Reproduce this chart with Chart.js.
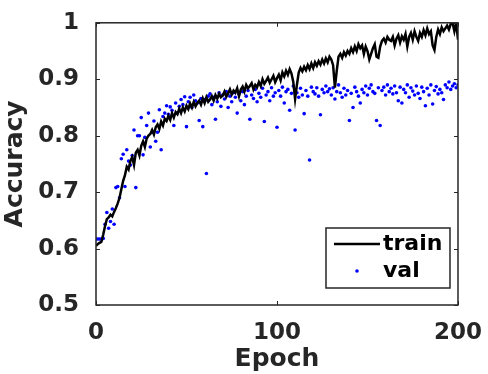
<!DOCTYPE html>
<html>
<head>
<meta charset="utf-8">
<script src="https://cdn.jsdelivr.net/npm/chart.js@4.4.1/dist/chart.umd.min.js"></script>
<style>
  html, body { margin: 0; padding: 0; background: #fff; }
  #wrap { width: 488px; height: 374px; }
</style>
</head>
<body>
<div id="wrap"><canvas id="accChart" width="488" height="374"></canvas></div>
<script>
// training accuracy per epoch (0..200)
const trainAcc = [
  0.605, 0.608, 0.61, 0.612, 0.625, 0.64, 0.652, 0.655, 0.66, 0.657,
  0.665, 0.672, 0.68, 0.69, 0.705, 0.72, 0.73, 0.745, 0.74, 0.755,
  0.762, 0.748, 0.77, 0.775, 0.765, 0.782, 0.79, 0.78, 0.795, 0.80,
  0.803, 0.81, 0.802, 0.815, 0.82, 0.812, 0.825, 0.818, 0.83, 0.826,
  0.835, 0.828, 0.84, 0.832, 0.842, 0.838, 0.848, 0.84, 0.85, 0.843,
  0.853, 0.847, 0.857, 0.85, 0.86, 0.852, 0.858, 0.862, 0.855, 0.866,
  0.858, 0.868, 0.86, 0.864, 0.87, 0.862, 0.872, 0.866, 0.874, 0.868,
  0.871, 0.878, 0.869, 0.875, 0.882, 0.873, 0.88, 0.876, 0.884, 0.87,
  0.882, 0.887, 0.878, 0.89, 0.884, 0.888, 0.893, 0.882, 0.89, 0.886,
  0.895, 0.888, 0.9, 0.892, 0.897, 0.903, 0.894, 0.9, 0.906, 0.895,
  0.902, 0.908, 0.898, 0.912, 0.905, 0.915, 0.908, 0.918, 0.91, 0.895,
  0.865, 0.89, 0.912, 0.92, 0.914, 0.922, 0.916, 0.925, 0.918, 0.928,
  0.92, 0.93, 0.924, 0.932, 0.926, 0.935, 0.928, 0.937, 0.93, 0.94,
  0.935, 0.925, 0.885, 0.915, 0.94, 0.945, 0.938, 0.948, 0.942, 0.95,
  0.945, 0.955, 0.948, 0.958, 0.95, 0.962, 0.955, 0.96, 0.945, 0.958,
  0.95, 0.935, 0.945, 0.955, 0.962, 0.94, 0.938, 0.958, 0.968, 0.972,
  0.965, 0.975, 0.97, 0.968, 0.975, 0.96, 0.972, 0.978, 0.965, 0.976,
  0.97, 0.98, 0.958, 0.975, 0.982, 0.97, 0.985, 0.975, 0.968, 0.982,
  0.975, 0.987, 0.978, 0.99, 0.98, 0.985, 0.96, 0.952, 0.975, 0.988,
  0.98, 0.992, 0.985, 0.99, 0.995, 0.988, 0.998, 1.0, 0.985, 1.0,
  0.97
];

// validation accuracy per epoch (0..200)
const valAcc = [
  0.617, 0.617, 0.617, 0.617, 0.618, 0.643, 0.664, 0.636, 0.648, 0.67,
  0.643, 0.708, 0.71, 0.69, 0.759, 0.767, 0.71, 0.775, 0.755, 0.748,
  0.765, 0.81, 0.708, 0.8, 0.8, 0.832, 0.766, 0.797, 0.818, 0.84,
  0.78, 0.806, 0.826, 0.79, 0.806, 0.846, 0.775, 0.834, 0.84, 0.853,
  0.838, 0.851, 0.845, 0.818, 0.858, 0.84, 0.852, 0.864, 0.855, 0.869,
  0.816, 0.86, 0.868, 0.85, 0.872, 0.862, 0.858, 0.827, 0.866, 0.816,
  0.864, 0.733, 0.87, 0.874, 0.855, 0.868, 0.829, 0.86, 0.876, 0.852,
  0.872, 0.865, 0.878, 0.85, 0.87, 0.86, 0.876, 0.868, 0.84, 0.874,
  0.862, 0.878, 0.855, 0.87, 0.88, 0.829, 0.872, 0.866, 0.882, 0.86,
  0.875, 0.868, 0.884, 0.825, 0.872, 0.878, 0.862, 0.885, 0.87, 0.876,
  0.815, 0.88, 0.87, 0.886, 0.858, 0.878, 0.882, 0.845, 0.875, 0.888,
  0.81, 0.876, 0.868, 0.884, 0.872, 0.839, 0.88, 0.87, 0.757, 0.886,
  0.878, 0.874, 0.885, 0.87, 0.837, 0.882, 0.876, 0.888, 0.878, 0.883,
  0.872, 0.885, 0.865, 0.878, 0.89, 0.876, 0.868, 0.884, 0.872, 0.88,
  0.827, 0.875, 0.85, 0.886, 0.878, 0.87, 0.858, 0.882, 0.876, 0.888,
  0.872, 0.884, 0.89, 0.878, 0.875, 0.827, 0.885, 0.818, 0.88, 0.886,
  0.872, 0.89, 0.878, 0.884, 0.874, 0.888, 0.876, 0.862, 0.886, 0.858,
  0.882, 0.876, 0.89, 0.868, 0.885, 0.879, 0.872, 0.888, 0.875, 0.866,
  0.886, 0.878, 0.853, 0.884, 0.872, 0.89, 0.856, 0.88, 0.887, 0.874,
  0.882, 0.876, 0.864, 0.89, 0.885, 0.895, 0.882, 0.888, 0.892, 0.885,
  0.89
];

const xTicks = [0, 100, 200];
const yTicks = [0.5, 0.6, 0.7, 0.8, 0.9, 1];

const FONT = "'DejaVu Sans', sans-serif";
const AXIS_COLOR = '#262626';

// Helper: draws the closed box, inward tick marks and the boxed legend
const boxPlugin = {
    id: 'boxPlugin',
    afterDatasetsDraw(chart) {
        const { ctx, chartArea: a, scales } = chart;
        ctx.save();
        ctx.strokeStyle = AXIS_COLOR;
        ctx.lineWidth = 1.5;
        ctx.strokeRect(a.left, a.top, a.width, a.height);

        ctx.lineWidth = 1;
        xTicks.forEach(v => {
            const px = Math.round(scales.x.getPixelForValue(v)) + 0.5;
            ctx.beginPath();
            ctx.moveTo(px, a.bottom); ctx.lineTo(px, a.bottom - 4);
            ctx.moveTo(px, a.top); ctx.lineTo(px, a.top + 4);
            ctx.stroke();
        });
        yTicks.forEach(v => {
            const py = Math.round(scales.y.getPixelForValue(v)) + 0.5;
            ctx.beginPath();
            ctx.moveTo(a.left, py); ctx.lineTo(a.left + 4, py);
            ctx.moveTo(a.right, py); ctx.lineTo(a.right - 4, py);
            ctx.stroke();
        });

        // legend box in the lower right corner
        const w = 124, h = 60;
        const lx = a.right - 8 - w, ly = a.bottom - 17 - h;
        ctx.fillStyle = '#fff';
        ctx.fillRect(lx, ly, w, h);
        ctx.strokeStyle = AXIS_COLOR;
        ctx.lineWidth = 1.5;
        ctx.strokeRect(lx, ly, w, h);

        const ds = chart.data.datasets;
        ctx.font = "bold 22px " + FONT;
        ctx.textBaseline = 'middle';
        ctx.textAlign = 'left';

        // train entry
        ctx.strokeStyle = ds[0].borderColor;
        ctx.lineWidth = 2.5;
        ctx.beginPath();
        ctx.moveTo(lx + 8, ly + 16); ctx.lineTo(lx + 54, ly + 16);
        ctx.stroke();
        ctx.fillStyle = '#000';
        ctx.fillText(ds[0].label, lx + 57, ly + 16);

        // val entry
        ctx.fillStyle = ds[1].backgroundColor;
        ctx.beginPath();
        ctx.arc(lx + 31, ly + 43, 1.8, 0, Math.PI * 2);
        ctx.fill();
        ctx.fillStyle = '#000';
        ctx.fillText(ds[1].label, lx + 57, ly + 43);
        ctx.restore();
    }
};

const canvas = document.getElementById('accChart');
new Chart(canvas.getContext('2d'), {
    type: 'line',
    data: {
        datasets: [{
            label: 'train',
            data: trainAcc.map((v, i) => ({ x: i, y: v })),
            borderColor: '#000000',
            borderWidth: 2.5,
            pointRadius: 0,
            tension: 0,
            fill: false
        }, {
            label: 'val',
            data: valAcc.map((v, i) => ({ x: i, y: v })),
            showLine: false,
            backgroundColor: '#0000ff',
            borderColor: '#0000ff',
            borderWidth: 0,
            pointRadius: 1.8
        }]
    },
    options: {
        responsive: false,
        animation: false,
        layout: { padding: { top: 19, right: 29, left: 0, bottom: 0 } },
        plugins: {
            legend: { display: false },
            tooltip: { enabled: false }
        },
        scales: {
            x: {
                type: 'linear',
                min: 0, max: 200,
                afterBuildTicks: s => { s.ticks = xTicks.map(v => ({ value: v })); },
                afterFit: s => { s.height = 69; },
                grid: { display: false },
                border: { display: false },
                ticks: {
                    color: AXIS_COLOR,
                    font: { family: FONT, size: 23, weight: 'bold' },
                    padding: 6,
                    maxRotation: 0
                },
                title: {
                    display: true,
                    text: 'Epoch',
                    color: AXIS_COLOR,
                    font: { family: FONT, size: 25, weight: 'bold' },
                    padding: { top: 0, bottom: 0 }
                }
            },
            y: {
                min: 0.5, max: 1,
                afterBuildTicks: s => { s.ticks = yTicks.map(v => ({ value: v })); },
                afterFit: s => { s.width = 96; },
                grid: { display: false },
                border: { display: false },
                ticks: {
                    color: AXIS_COLOR,
                    font: { family: FONT, size: 23, weight: 'bold' },
                    padding: 9,
                    callback: v => String(Number(v.toFixed(1)))
                },
                title: {
                    display: true,
                    text: 'Accuracy',
                    color: AXIS_COLOR,
                    font: { family: FONT, size: 25, weight: 'bold' },
                    padding: { top: 0, bottom: 0 }
                }
            }
        }
    },
    plugins: [boxPlugin]
});
</script>
</body>
</html>
